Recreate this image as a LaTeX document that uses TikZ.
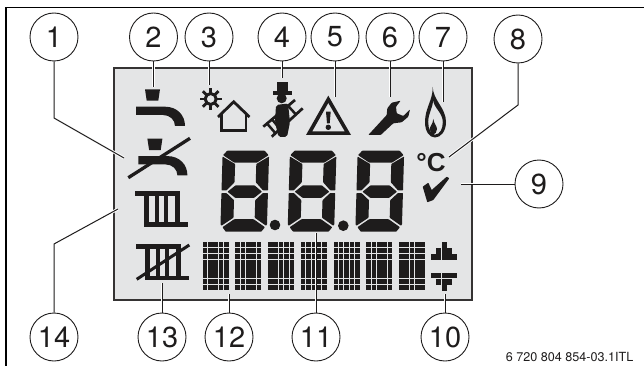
\documentclass[tikz,border=0pt]{standalone}
\usepackage{fontspec}
\setmainfont{TeX Gyre Heros}
\newfontfamily\lcdfont{Liberation Sans}
\pgfdeclarelayer{lcdlayer}
\pgfdeclarelayer{celllayer}
\pgfdeclarelayer{connlayer}
\pgfsetlayers{lcdlayer,celllayer,connlayer,main}
\definecolor{lcdbg}{HTML}{E4E5E6}
\definecolor{ink}{HTML}{1E1C1C}
\tikzset{
  callout/.style={circle,draw=ink,line width=0.9pt,minimum size=48pt,inner sep=0pt,text=ink,font=\fontsize{29}{29}\selectfont},
  conn/.style={draw=ink,line width=1pt,preaction={draw=white,line width=2.8pt}},
  symline/.style={draw=ink,line join=miter},
}
\newcommand{\lcdblock}[2]{%
  \foreach \cc in {0,...,4}{\foreach \rr in {0,...,7}{%
    \fill[ink] ({#1+\cc*5.36},{#2+\rr*6.14}) rectangle ({#1+\cc*5.36+4.6},{#2+\rr*6.14+5.4});}}}
\newcommand{\lcddigit}[1]{%
  \begin{scope}[shift={(#1,150.7)},xslant=0.03]
    \fill[ink,rounded corners=0.6pt] (4.5,0) -- (42,0) -- (46,4.5) -- (34.5,12) -- (12,12) -- (0.5,4.5) -- cycle;
    \fill[ink,rounded corners=0.6pt] (0,5.8) -- (12.8,13.3) -- (12.8,31.5) -- (5,39.7) -- (0,39.7) -- cycle;
    \fill[ink,rounded corners=0.6pt] (46.5,5.8) -- (34,13.3) -- (34,31.5) -- (41.5,39.7) -- (46.5,39.7) -- cycle;
    \fill[ink,rounded corners=0.6pt] (6,41) -- (14,34.6) -- (32.8,34.6) -- (40.5,41) -- (32.8,47.2) -- (14,47.2) -- cycle;
    \fill[ink,rounded corners=0.6pt] (0,42.3) -- (5,42.3) -- (12.8,49.5) -- (12.8,67) -- (1,75) -- (0,74) -- cycle;
    \fill[ink,rounded corners=0.6pt] (46.5,42.3) -- (41.5,42.3) -- (34,49.5) -- (34,67) -- (45.5,75) -- (46.5,74) -- cycle;
    \fill[ink,rounded corners=0.6pt] (2,76.5) -- (13.5,68.5) -- (33,68.5) -- (44.5,76.5) -- (41,81) -- (5.5,81) -- cycle;
  \end{scope}}
\newcommand{\lcdtap}[2]{%
  \begin{scope}[shift={(#1,#2)}]
    \fill[ink] (145,89.3) -- (160,89.3) -- (158.3,100.7) -- (146.7,100.7) -- cycle;
    \fill[ink] (136,106.7) -- (165,106.7) .. controls (177,106.7) and (185,115) .. (185,126) -- (175,126) .. controls (175,120) and (170,115) .. (163,115) -- (136,115) -- cycle;
  \end{scope}}
\newcommand{\lcdrad}[2]{%
  \begin{scope}[shift={(#1,#2)}]
    \fill[ink] (135,191) rectangle (180,195.7);
    \fill[ink] (144,222.3) rectangle (188.3,226.7);
    \fill[ink] (144,191) rectangle (149.3,226);
    \fill[ink] (155,191) rectangle (159,226);
    \fill[ink] (164,191) rectangle (168.3,226);
    \fill[ink] (175,191) rectangle (180,226);
  \end{scope}}
\begin{document}
\begin{tikzpicture}[x=1pt,y=-1pt]
\useasboundingbox (0,0) rectangle (644,366);
\draw[black,line width=1.3pt] (644,7.5) -- (6,7.5) -- (6,366);
\node[callout] (c1) at (54,37) {1};
\node[callout] (c2) at (153.5,37) {2};
\node[callout] (c3) at (209,37) {3};
\node[callout] (c4) at (282,37) {4};
\node[callout] (c5) at (335,37) {5};
\node[callout] (c6) at (390,37) {6};
\node[callout] (c7) at (443,37) {7};
\node[callout] (c8) at (518,39) {8};
\node[callout] (c9) at (539,184) {9};
\node[callout] (c10) at (445,337) {10};
\node[callout] (c11) at (316,337) {11};
\node[callout] (c12) at (229,337) {12};
\node[callout] (c13) at (162,337) {13};
\node[callout] (c14) at (54,337) {14};
\coordinate (b1) at (54,118);
\coordinate (e1) at (124,158);
\coordinate (e2) at (153.5,87);
\coordinate (e3) at (209,85);
\coordinate (e4) at (282,78);
\coordinate (e5) at (335,97);
\coordinate (e6) at (390,97);
\coordinate (e7) at (443,102);
\coordinate (b8) at (518,105);
\coordinate (e8) at (449,157);
\coordinate (e9) at (461,184);
\coordinate (e10) at (445,294);
\coordinate (e11) at (316,233);
\coordinate (e12) at (229,294);
\coordinate (e13) at (162,283);
\coordinate (b14) at (54,244);
\coordinate (e14) at (118,209);
\begin{pgfonlayer}{lcdlayer}
\draw[draw=ink!90,fill=lcdbg,line width=2pt] (113.5,68) rectangle (471.5,300);
\end{pgfonlayer}
\begin{pgfonlayer}{celllayer}
\foreach \bi in {0,...,6}{\lcdblock{202.7+\bi*32.7}{241.7}}
\foreach \cc/\rr in {2/0,1/1,2/1,3/1,0/2,1/2,2/2,3/2,4/2,0/5,1/5,2/5,3/5,4/5,1/6,2/6,3/6,2/7}{%
  \fill[ink] ({431+\cc*5.36},{242+\rr*6.14}) rectangle ({431+\cc*5.36+4.9},{242+\rr*6.14+5.7});}
\end{pgfonlayer}
\begin{pgfonlayer}{connlayer}
\draw[conn] (c1.south) -- (b1) -- (e1);
\draw[conn] (c2.south) -- (e2);
\draw[conn] (c3.south) -- (e3);
\draw[conn] (c4.south) -- (e4);
\draw[conn] (c5.south) -- (e5);
\draw[conn] (c6.south) -- (e6);
\draw[conn] (c7.south) -- (e7);
\draw[conn] (c8.south) -- (b8) -- (e8);
\draw[conn] (c9.west) -- (e9);
\draw[conn] (c10.north) -- (e10);
\draw[conn] (c11.north) -- (e11);
\draw[conn] (c12.north) -- (e12);
\draw[conn] (c13.north) -- (e13);
\draw[conn] (c14.north) -- (b14) -- (e14);
\end{pgfonlayer}
\lcdtap{0}{0}
\lcdtap{2.4}{49.4}
\draw[symline,line width=3.3pt] (128.3,177.7) -- (190,138.3);
% sun and house
\draw[symline,line width=3pt] (210.7,99) circle[radius=5.5];
\foreach \a in {0,45,...,315}{\draw[symline,line width=2.8pt] (210.7,99) ++(\a:6) -- ++(\a:5);}
\draw[symline,line width=2.8pt] (218,117) -- (233.7,101.8) -- (249.5,117);
\draw[symline,line width=2.8pt] (221.5,114) -- (221.5,130.5) -- (246,130.5) -- (246,114);
% chimney sweep
\draw[symline,line width=2.7pt] (263.3,126.7) -- (295,100);
\draw[symline,line width=2.7pt] (271.7,136.7) -- (302.7,108.3);
\draw[symline,line width=2.5pt] (267,123.5) -- (275.5,133.3);
\draw[symline,line width=2.5pt] (272,119.3) -- (280,129);
\draw[symline,line width=2.5pt] (288,105.8) -- (296,114.5);
\fill[ink] (276.7,81.7) rectangle (288.3,91);
\fill[ink] (272.7,90.7) rectangle (291.7,95);
\fill[ink] (281.7,98.3) circle[radius=5];
\fill[ink,rounded corners=2pt] (276,105) -- (288,103.5) -- (290,122) -- (287,137) -- (278.5,137) -- (275,122) -- cycle;
% warning
\draw[symline,line width=3.6pt] (328.3,99.3) -- (347.9,133.2) -- (309.1,133.2) -- cycle;
\fill[ink] (326,111.7) -- (330.7,111.7) -- (329.7,123.3) -- (327,123.3) -- cycle;
\fill[ink] (328.3,127.3) circle[radius=2.7];
% wrench
\fill[ink,rounded corners=0.8pt] (368.3,135) -- (386.7,115) -- (387.3,108.3) -- (391.7,102.7) -- (400.7,100.7) -- (396,106.7) -- (396.7,113.3) -- (403.3,116) -- (410,109.3) -- (408.3,116.7) -- (401.7,122.3) -- (393.3,123.3) -- (380.7,135) -- cycle;
% flame
\fill[ink,even odd rule] (432.7,87) .. controls (433,100) and (446,108) .. (446,122) .. controls (446,131) and (441,137.5) .. (435,137.5) .. controls (429,137.5) and (425,131) .. (425,122) .. controls (425,108) and (433,100) .. (432.7,87) -- cycle
 (433,100) .. controls (434,108) and (442.8,113) .. (442.8,122) .. controls (442.8,129) and (440,134.2) .. (435,134.7) .. controls (431,134.7) and (428.2,129) .. (428.2,122) .. controls (428.2,113) and (433,108) .. (433,100) -- cycle;
\fill[ink] (433.3,119) .. controls (434,124) and (437,126) .. (437,129) .. controls (437,132) and (435,134.5) .. (433.3,134.5) .. controls (431.5,134.5) and (429.8,132) .. (429.8,129) .. controls (429.8,126) and (433,124) .. (433.3,119) -- cycle;
\node[text=ink,font=\lcdfont\fontsize{26}{26}\selectfont\bfseries,inner sep=0pt] (degc) at (431,163) {°C};
\fill[ink,rounded corners=0.5pt] (422.7,186.7) -- (428.3,182.7) -- (431.7,190) -- (446.7,176.7) -- (449.3,178.3) -- (433.3,200) -- (427.3,202.3) -- cycle;
\lcddigit{222.7}
\lcddigit{290}
\lcddigit{357.7}
\fill[ink] (275,225) circle[radius=5.3];
\fill[ink] (343.3,225.7) circle[radius=5.3];
\lcdrad{0}{0}
\lcdrad{1}{53.3}
\draw[symline,line width=3pt] (136.7,279.3) -- (189.3,245);
\node[text=ink,font=\fontsize{12.6}{13}\selectfont,inner sep=0pt,anchor=east] (refno) at (633.5,357) {6 720 804 854-03.1ITL};
\end{tikzpicture}
\end{document}
